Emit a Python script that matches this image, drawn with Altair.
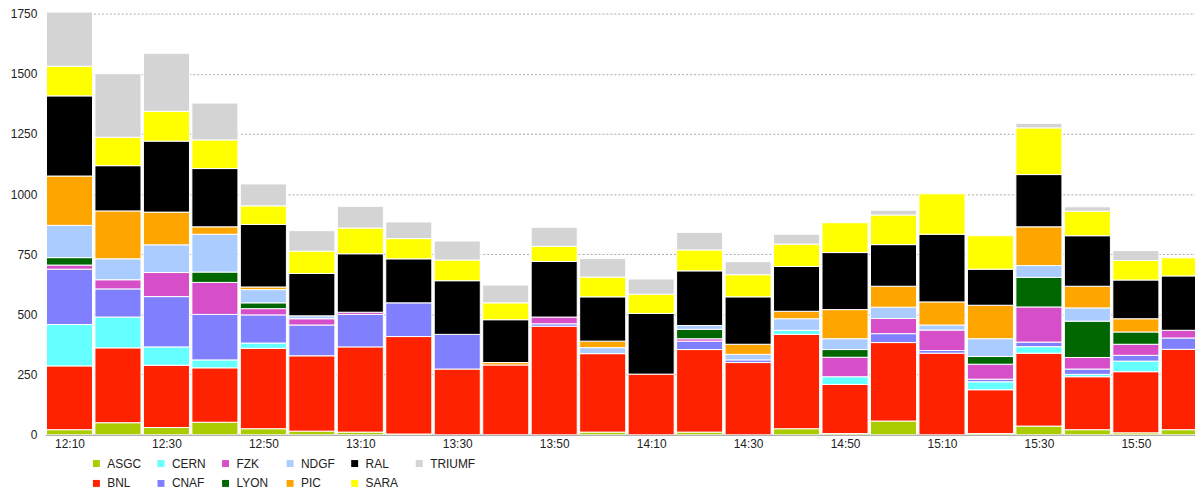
import altair as alt
import pandas as pd

times = ["12:10", "12:20", "12:30", "12:40", "12:50", "13:00", "13:10", "13:20",
         "13:30", "13:40", "13:50", "14:00", "14:10", "14:20", "14:30", "14:40",
         "14:50", "15:00", "15:10", "15:20", "15:30", "15:40", "15:50", "16:00"]
tick_labels = ["12:10", "12:30", "12:50", "13:10", "13:30", "13:50",
               "14:10", "14:30", "14:50", "15:10", "15:30", "15:50"]
y_ticks = [0, 250, 500, 750, 1000, 1250, 1500, 1750]

sites = ["ASGC", "BNL", "CERN", "CNAF", "FZK", "LYON", "NDGF", "PIC", "RAL", "SARA", "TRIUMF"]
site_colors = {
    "ASGC": "#aacc00", "BNL": "#ff2200", "CERN": "#66ffff", "CNAF": "#8080ff",
    "FZK": "#d64fc8", "LYON": "#006600", "NDGF": "#aaccff", "PIC": "#ffa500",
    "RAL": "#000000", "SARA": "#ffff00", "TRIUMF": "#d4d4d4",
}
legend_order = ["ASGC", "CERN", "FZK", "NDGF", "RAL", "TRIUMF",
                "BNL", "CNAF", "LYON", "PIC", "SARA"]

ASGC   = [21, 50, 30, 52, 25, 15, 11, 3, 0, 0, 0, 11, 0, 11, 0, 25, 5, 57, 0, 5, 36, 21, 8, 21]
BNL    = [265, 311, 259, 226, 334, 313, 354, 405, 273, 290, 451, 326, 252, 343, 300, 392, 204, 326, 339, 182, 303, 220, 254, 334]
CERN   = [172, 128, 76, 33, 22, 0, 0, 0, 0, 0, 0, 0, 0, 0, 0, 17, 32, 0, 0, 33, 27, 10, 44, 0]
CNAF   = [230, 117, 209, 189, 117, 128, 135, 140, 144, 0, 10, 0, 0, 35, 11, 0, 0, 37, 11, 11, 19, 22, 24, 47]
FZK    = [17, 38, 100, 133, 26, 26, 9, 0, 0, 0, 28, 0, 0, 10, 0, 0, 81, 63, 85, 62, 146, 48, 46, 32]
LYON   = [31, 0, 0, 43, 24, 0, 0, 0, 0, 0, 0, 0, 0, 39, 0, 0, 32, 0, 0, 32, 123, 151, 51, 0]
NDGF   = [134, 87, 115, 157, 55, 12, 0, 0, 0, 0, 0, 25, 0, 16, 23, 48, 45, 47, 21, 74, 49, 55, 0, 0]
PIC    = [205, 199, 136, 31, 11, 0, 0, 0, 0, 10, 0, 27, 0, 0, 42, 31, 121, 87, 96, 139, 161, 90, 55, 0]
RAL    = [333, 188, 295, 242, 260, 176, 243, 183, 223, 178, 231, 184, 252, 227, 197, 186, 237, 173, 281, 150, 217, 210, 161, 226]
SARA   = [123, 118, 124, 119, 77, 93, 107, 84, 86, 70, 63, 82, 80, 87, 92, 93, 124, 123, 168, 139, 194, 102, 81, 75]
TRIUMF = [226, 264, 241, 153, 91, 85, 90, 69, 79, 74, 79, 77, 63, 73, 54, 41, 0, 20, 0, 0, 19, 18, 41, 0]

series = {"ASGC": ASGC, "BNL": BNL, "CERN": CERN, "CNAF": CNAF, "FZK": FZK, "LYON": LYON,
          "NDGF": NDGF, "PIC": PIC, "RAL": RAL, "SARA": SARA, "TRIUMF": TRIUMF}


def to_min(s):
    h, m = s.split(":")
    return int(h) * 60 + int(m)


rows = []
for k, site in enumerate(sites):
    for t, v in zip(times, series[site]):
        if v > 0:
            rows.append({"t": to_min(t), "site": site, "k": k, "value": v})
df = pd.DataFrame(rows)

first = to_min(times[0])
x_domain = [first - 4.9, first - 4.9 + 237.1]

label_expr = "floor(datum.value / 60) + ':' + (datum.value % 60 < 10 ? '0' : '') + (datum.value % 60)"

chart = (
    alt.Chart(df)
    .transform_stack(stack="value", groupby=["t"], as_=["y0", "y1"],
                     sort=[alt.SortField("k", order="ascending")])
    .transform_calculate(xl="datum.t - 4.75", xr="datum.t + 4.75")
    .mark_rect(clip=True, stroke="white", strokeWidth=1)
    .encode(
        x=alt.X("xl:Q", scale=alt.Scale(domain=x_domain, nice=False, zero=False),
                axis=alt.Axis(values=[to_min(s) for s in tick_labels], labelExpr=label_expr,
                              title=None, grid=False, ticks=False, tickSize=0,
                              labelPadding=4, labelFontSize=12, labelColor="#222222",
                              domainColor="#b0b0b0", domainWidth=1.5)),
        x2="xr:Q",
        y=alt.Y("y1:Q", scale=alt.Scale(domain=[0, 1754], nice=False),
                axis=alt.Axis(values=y_ticks, format="d", title=None, ticks=False, tickSize=0,
                              domain=False, labelPadding=9, labelFontSize=12,
                              labelColor="#222222", grid=True, gridColor="#aaaaaa",
                              gridDash=[2, 2], gridWidth=1)),
        y2="y0:Q",
        color=alt.Color("site:N",
                        scale=alt.Scale(domain=legend_order,
                                        range=[site_colors[s] for s in legend_order]),
                        legend=alt.Legend(orient="none", legendX=45, legendY=448,
                                          columns=6, direction="horizontal", title=None,
                                          symbolType="square", symbolSize=49,
                                          symbolStrokeWidth=0, labelFontSize=12,
                                          labelColor="#222222", labelOffset=5,
                                          columnPadding=2, rowPadding=8,
                                          gridAlign="all", padding=0)),
        order=alt.Order("k:Q"),
    )
    .properties(width=1157, height=425,
                padding={"left": 38, "top": 3, "right": 0, "bottom": 55},
                autosize=alt.AutoSizeParams(type="none"))
    .configure(font="Liberation Sans")
    .configure_view(stroke=None)
)

chart.save("out.html", embed_options={"renderer": "svg", "actions": False})
